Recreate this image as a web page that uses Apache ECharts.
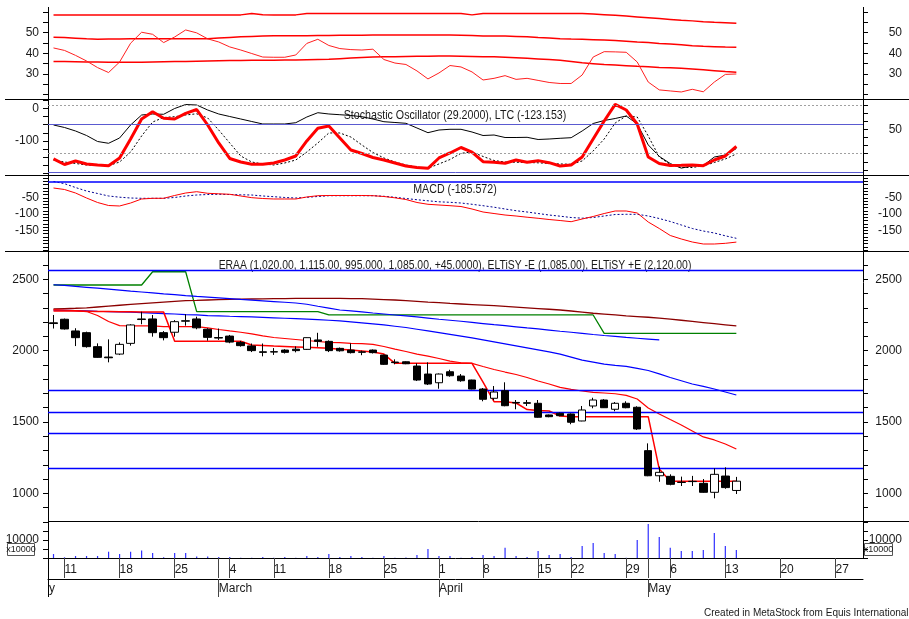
<!DOCTYPE html>
<html><head><meta charset="utf-8">
<script src="https://cdn.jsdelivr.net/npm/echarts@6/dist/echarts.min.js"></script>
<style>html,body{margin:0;padding:0;background:#fff}#c{width:909px;height:619px}</style>
</head><body><div id="c"></div>
<script>
// ---------- axis / tick labels ----------
const slotCount = 74;
const dayTickIdx  = [1,6,11,16,20,25,30,35,39,44,47,52,56,61,66,71];
const dayTickText = ['11','18','25','4','11','18','25','1','8','15','22','29','6','13','20','27'];
const monthTickIdx  = [15,35,54];
const monthTickText = ['March','April','May'];

// ---------- price (O, C, L, H) ----------
const open  = [2195,2220,2138,2126,2028,1955,1976,2051,2218,2222,2126,2129,2206,2222,2150,2092,2102,2058,2033,1992,1990,2004,2010,2009,2075,2065,2016,2004,1991,2004,1969,1920,1922,1892,1836,1775,1852,1822,1794,1731,1666,1719,1637,1635,1631,1549,1561,1556,1507,1612,1654,1589,1631,1603,1299,1123,1119,1078,1084,1070,1007,1121,1020];
const close = [2190,2152,2091,2028,1953,1950,2044,2180,2222,2126,2091,2203,2210,2160,2093,2088,2060,2035,2000,1988,1993,1988,2000,2091,2065,2000,1999,1986,1989,1986,1904,1916,1908,1794,1766,1836,1824,1789,1731,1659,1710,1614,1633,1631,1533,1537,1544,1498,1584,1654,1600,1631,1600,1451,1123,1147,1063,1076,1082,1007,1133,1040,1085];
const low   = [2155,2148,2032,2021,1950,1918,1969,2035,2185,2098,2072,2098,2175,2150,2070,2075,2052,2028,1990,1960,1970,1980,1988,2005,2027,1990,1993,1980,1968,1980,1900,1904,1905,1787,1759,1733,1817,1782,1729,1645,1652,1610,1589,1612,1530,1533,1540,1484,1505,1596,1598,1575,1596,1444,1120,1081,1056,1051,1051,1004,965,1032,995];
const high  = [2250,2225,2157,2133,2051,2079,2058,2185,2273,2250,2137,2214,2255,2238,2157,2155,2110,2068,2050,2050,2018,2010,2030,2092,2125,2072,2022,2051,2000,2008,1972,1939,1925,1911,1918,1840,1866,1836,1796,1738,1752,1778,1654,1654,1654,1552,1566,1560,1612,1670,1660,1640,1645,1610,1350,1187,1133,1117,1122,1100,1175,1182,1115];

// price-panel lines
const eltisyPlusE  = [2460,2460,2460,2460,2460,2460,2460,2460,2460,2553,2553,2553,2553,2273,2273,2273,2273,2273,2273,2273,2273,2273,2273,2273,2273,2250,2250,2250,2250,2250,2250,2250,2250,2250,2250,2250,2250,2250,2250,2250,2250,2250,2250,2250,2250,2250,2250,2250,2250,2250,2121,2121,2121,2121,2121,2121,2121,2121,2121,2121,2121,2121,2121];
const eltisyMinusE = [2278,2278,2277,2276,2275,2274,2273,2272,2271,2270,2270,2066,2066,2066,2066,2066,2066,2066,2040,2036,2032,2029,2026,2023,2020,2016,2010,2004,1998,1990,1976,1911,1911,1911,1911,1911,1911,1911,1911,1780,1642,1642,1633,1587,1580,1577,1542,1537,1537,1537,1537,1537,1537,1537,1537,1170,1085,1085,1085,1085,1085,1085,1085];
const redAvg   = [2288,2285,2281,2274,2246,2204,2175,2173,2173,2173,2169,2169,2169,2168,2159,2148,2138,2129,2117,2103,2092,2085,2078,2071,2064,2058,2056,2051,2049,2044,2029,2011,1994,1976,1962,1945,1927,1915,1911,1889,1868,1850,1833,1812,1787,1766,1743,1729,1717,1707,1703,1698,1686,1661,1598,1556,1517,1479,1437,1395,1374,1346,1310];
const maroonAvg = [2292,2295,2297,2300,2306,2312,2318,2324,2330,2335,2340,2345,2350,2352,2355,2357,2359,2361,2362,2363,2364,2365,2366,2366,2367,2367,2366,2365,2364,2361,2358,2355,2350,2345,2340,2336,2331,2327,2323,2319,2315,2310,2305,2300,2295,2290,2285,2278,2270,2262,2256,2250,2244,2239,2234,2228,2221,2213,2205,2197,2189,2181,2173];
const blueUpper = [2462,2457,2450,2444,2438,2431,2424,2417,2411,2405,2398,2393,2386,2380,2375,2370,2365,2359,2354,2349,2344,2339,2334,2325,2311,2298,2285,2279,2272,2264,2257,2250,2243,2236,2228,2220,2213,2206,2198,2190,2182,2175,2167,2159,2152,2144,2136,2129,2121,2113,2106,2100,2093,2087,2081,2075];
const blueLower = [2283,2282,2281,2279,2276,2274,2271,2269,2266,2263,2260,2257,2253,2250,2246,2244,2241,2239,2236,2233,2230,2227,2224,2221,2217,2213,2208,2201,2194,2187,2180,2171,2162,2150,2138,2126,2114,2102,2089,2075,2061,2047,2033,2019,2005,1991,1976,1955,1934,1920,1905,1897,1890,1876,1861,1837,1812,1789,1766,1749,1731,1710,1689];
const priceLevels = [2563,1723,1568,1423,1175];

// volume (x10000)
const volume = [2200,400,1100,1100,1100,3500,2200,3500,4100,2800,400,2800,2800,800,800,600,600,200,200,600,200,600,200,1100,600,2200,600,1100,600,200,1100,200,300,1700,5000,1100,1100,200,600,1700,1100,5700,1100,600,3900,1700,2200,600,6700,8300,2800,2200,200,10000,18900,11700,5700,3900,3900,4400,13900,6700,4400];

// top panel
const rsiLine  = [42.6,41.4,39.0,36.3,33.1,30.7,35.8,44.9,50.2,49.2,45.2,47.9,51.3,49.9,47.0,45.5,43.1,41.6,39.9,38.2,38.1,38.1,39.2,44.8,46.8,43.8,42.3,41.8,41.6,42.0,37.0,35.3,34.6,31.5,27.6,30.5,34.1,33.4,31.0,27.1,27.9,29.2,27.4,27.9,26.9,25.9,25.4,25.4,29.5,38.2,40.8,40.7,40.5,35.8,26.1,22.3,21.8,21.3,22.6,21.4,26.1,29.8,30.0];
const bandUp   = [58.6,58.6,58.6,58.6,58.6,58.6,58.6,58.6,58.6,58.6,58.6,58.6,58.6,58.6,58.6,58.6,58.6,58.6,59.3,58.7,58.6,58.6,58.6,59.3,59.3,59.3,59.3,59.3,59.3,59.3,59.3,59.3,59.3,59.3,59.3,59.3,59.3,59.3,58.6,59.3,59.3,59.3,59.3,59.3,59.3,59.3,59.3,59.3,59.3,59.0,58.7,58.4,58.0,57.6,57.2,56.8,56.4,56.0,55.7,55.3,55.0,54.8,54.6];
const bandMid  = [47.8,47.6,47.3,47.0,46.8,46.9,46.9,47.0,47.0,47.0,47.0,47.1,47.1,47.1,47.1,47.4,47.7,48.0,48.2,48.4,48.5,48.5,48.5,48.5,48.6,48.6,48.7,48.7,48.8,48.9,48.9,48.9,48.9,48.9,48.9,48.9,48.9,48.8,48.6,48.4,48.4,48.4,48.2,48.0,47.6,47.4,47.1,46.9,46.8,46.6,46.4,46.2,45.9,45.5,45.2,44.8,44.5,44.1,43.7,43.4,43.2,43.0,42.9];
const bandLow  = [36.1,36.0,35.9,35.8,35.8,35.7,35.7,35.7,35.7,35.8,35.9,36.0,36.1,36.2,36.3,36.4,36.5,36.5,36.6,36.6,36.7,36.8,36.8,36.9,37.0,37.1,37.4,37.7,38.0,38.2,38.3,38.4,38.5,38.6,38.6,38.7,38.7,38.6,38.5,38.4,38.3,38.1,37.9,37.6,37.3,37.0,36.6,36.1,35.4,35.0,34.6,34.3,34.0,33.7,33.5,33.2,33.0,32.8,32.4,32.0,31.6,31.2,30.9];

// stochastic panel
const stochK = [13.5,6.6,11.0,7.3,6.0,5.2,14.7,38.2,63.0,72.1,63.9,63.0,70.1,74.8,55.6,33.3,14.1,9.7,6.9,6.9,8.5,12.2,17.2,35.8,51.5,54.3,39.5,24.6,20.3,15.3,12.2,8.5,4.8,2.9,1.9,14.7,20.9,27.7,22.1,10.1,9.4,8.1,12.2,9.4,11.4,8.9,4.8,6.0,15.9,38.2,60.5,81.2,74.2,56.8,15.9,7.9,5.4,5.6,6.0,5.2,12.2,17.2,29.2];
const stochD = [12.2,9.7,7.9,6.0,5.4,5.2,9.7,22.1,42.0,59.3,64.9,65.9,68.0,69.5,64.3,49.4,33.3,17.2,9.7,7.3,6.0,8.5,12.2,22.1,33.3,45.7,45.7,40.7,30.8,21.5,14.7,9.7,6.0,3.5,1.9,7.3,12.8,20.5,22.1,16.6,11.6,9.7,9.4,9.1,8.7,7.9,7.3,6.9,11.0,23.4,38.2,58.1,66.7,65.5,42.0,15.9,6.6,2.9,2.9,5.0,9.1,13.5,19.7];
const ltc    = [-51,-58.7,-69.4,-83.2,-101.5,-107,-90.8,-51,-20.5,-17.4,-18.3,-0.6,11.6,10.1,-5.2,-17.4,-25.1,-32.7,-40.4,-48,-48,-48,-44,-26.6,-13.5,-17.4,-19.6,-22,-25.7,-32.7,-41,-43.4,-45.9,-60.2,-74.6,-66.4,-64.2,-64.2,-72.5,-83.2,-81.7,-89.3,-89.3,-88.7,-95.4,-93.9,-91.7,-89.9,-69.4,-46.5,-37.3,-31.2,-23.5,-48,-112,-147,-169,-183,-176,-175,-149,-143,-123.153];
const stochLevels = [80,20];
const ltcLevels = [-48,-196];

// MACD panel
const macd   = [-20.2,-24.8,-35.5,-50.8,-64.5,-73.7,-75.2,-66.1,-53.8,-51.7,-51.7,-43.1,-35.5,-31.5,-36.4,-37.9,-39.4,-44.6,-49.8,-52.3,-53.8,-53.8,-53.8,-47.7,-43.7,-43.1,-43.1,-43.1,-43.1,-43.7,-46.2,-50.2,-55.4,-64.5,-70.0,-72.2,-74.3,-76.8,-84.4,-93.6,-98.2,-102.8,-105.8,-109.5,-112.8,-116.5,-119.6,-123.2,-115,-107.3,-98.2,-90.5,-90.5,-96.6,-124.2,-144,-165.4,-176.1,-185.3,-191.4,-191.4,-189.3,-185.572];
const signal = [-0.3,-7.0,-18.7,-29.4,-37.0,-44.6,-48.3,-50.8,-51.7,-51.7,-51.7,-49.2,-44.6,-41.6,-40.1,-39.4,-40.1,-41,-41.6,-44.6,-46.8,-49.2,-50.8,-48.6,-46.2,-43.7,-43.7,-43.7,-43.7,-43.7,-45.6,-48.6,-52.3,-56,-59.3,-62.4,-63.9,-66.1,-70,-74.3,-78.9,-84.4,-89.6,-93.6,-98.2,-102.8,-106.4,-110.4,-112.5,-110.4,-105.8,-101.2,-100.6,-100.6,-105.8,-113.5,-122.6,-133.3,-144,-151.7,-157.8,-166.4,-174];

// tick sets
const p1Ticks = [20,25,30,35,40,45,50,55,60], p1Labels = [30,40,50];
const ltcTicks = [-200,-175,-150,-125,-100,-75,-50,-25,0,25], ltcLabels = [0,-100];
const stTicks = [0,10,20,30,40,50,60,70,80], stLabels = [50];
const macdTicks = [-210,-200,-190,-180,-170,-160,-150,-140,-130,-120,-110,-100,-90,-80,-70,-60,-50,-40,-30,-20,-10,0,10], macdLabels = [-50,-100,-150];
const priceTicks = [900,1000,1100,1200,1300,1400,1500,1600,1700,1800,1900,2000,2100,2200,2300,2400,2500,2600], priceLabels = [1000,1500,2000,2500];
const volTicks = [0,5000,10000,15000,20000], volLabels = [10000];

const titlePrice = 'ERAA (1,020.00, 1,115.00, 995.000, 1,085.00, +45.0000), ELTiSY -E (1,085.00), ELTiSY +E (2,120.00)';
const titleMacd = 'MACD (-185.572)';
const titleStoch = 'Stochastic Oscillator (29.2000), LTC (-123.153)';

// ---------- build ----------
const FONT = '"Liberation Sans",Arial,sans-serif';
const AXF = 12;
const TXT = '#1a1a1a';
const slots = Array.from({length: slotCount}, (_, i) => String(i));
const candle = open.map((o, i) => [o, close[i], low[i], high[i]]);

function yax(g, pos, min, max, ticks, labels) {
  return {
    type: 'value', gridIndex: g, position: pos, min: min, max: max,
    axisLine: {show: false}, splitLine: {show: false},
    axisTick: {show: true, inside: false, length: 5, customValues: ticks, lineStyle: {color: '#000'}},
    axisLabel: {customValues: labels, formatter: (v) => String(v), margin: pos === 'left' ? 9 : 39, align: 'right',
      fontFamily: FONT, fontSize: AXF, color: TXT}
  };
}
function hx(g) { return {type: 'category', gridIndex: g, data: slots, boundaryGap: true, show: false}; }
function ln(xi, yi, data, color, width, type) {
  return {type: 'line', xAxisIndex: xi, yAxisIndex: yi, data: data, symbol: 'none', silent: true,
    lineStyle: {color: color, width: width, type: type || 'solid'}, z: 3};
}
function levels(vals, color, width, type) {
  return {silent: true, symbol: 'none', label: {show: false}, animation: false,
    lineStyle: {color: color, width: width, type: type || 'solid'},
    data: vals.map(v => ({yAxis: v}))};
}
function title(txt, y, sx) {
  return {type: 'text', x: 455, y: y, scaleX: sx, originX: 0, originY: 0,
    style: {text: txt, font: '13px ' + FONT, fill: TXT, textAlign: 'center', textVerticalAlign: 'middle'}};
}

const grids = [
  {left: 48, right: 46, top: 0, height: 99},
  {left: 48, right: 46, top: 100, height: 75},
  {left: 48, right: 46, top: 176, height: 75},
  {left: 48, right: 46, top: 252, height: 268},
  {left: 48, right: 46, top: 522, height: 36},
  {left: 48, right: 46, top: 558, height: 21}
];

const dayTickAll = dayTickIdx.concat(monthTickIdx);
const dayAxis = {
  type: 'category', gridIndex: 4, data: slots, boundaryGap: true,
  axisLine: {show: true, lineStyle: {color: '#000', width: 1}},
  axisTick: {show: true, alignWithLabel: true, length: 20, interval: (i) => dayTickAll.includes(i), lineStyle: {color: '#444'}},
  axisLabel: {interval: (i) => dayTickIdx.includes(i), formatter: (v, i) => { const k = dayTickIdx.indexOf(i); return k >= 0 ? dayTickText[k] : ''; },
    align: 'left', margin: 6, fontFamily: FONT, fontSize: AXF, color: TXT}
};
const monthAxis = {
  type: 'category', gridIndex: 5, data: slots, boundaryGap: true, position: 'bottom',
  axisLine: {show: true, lineStyle: {color: '#000', width: 1}},
  axisTick: {show: true, alignWithLabel: true, length: 18, interval: (i) => monthTickIdx.includes(i), lineStyle: {color: '#444'}},
  axisLabel: {interval: (i) => monthTickIdx.includes(i), formatter: (v, i) => { const k = monthTickIdx.indexOf(i); return k >= 0 ? monthTickText[k] : ''; },
    align: 'left', margin: 4, fontFamily: FONT, fontSize: AXF, color: TXT}
};

const option = {
  animation: false,
  backgroundColor: '#fff',
  grid: grids,
  xAxis: [hx(0), hx(1), hx(2), hx(3), dayAxis, monthAxis],
  yAxis: [
    yax(0, 'left', 17.9, 65.8, p1Ticks, p1Labels), yax(0, 'right', 17.9, 65.8, p1Ticks, p1Labels),
    yax(1, 'left', -204, 25.4, ltcTicks, ltcLabels), yax(1, 'right', -6.4, 86.6, stTicks, stLabels),
    yax(2, 'left', -212.8, 16.5, macdTicks, macdLabels), yax(2, 'right', -212.8, 16.5, macdTicks, macdLabels),
    yax(3, 'left', 812.9, 2691.4, priceTicks, priceLabels), yax(3, 'right', 812.9, 2691.4, priceTicks, priceLabels),
    yax(4, 'left', 0, 20000, volTicks, volLabels), yax(4, 'right', 0, 20000, volTicks, volLabels),
    {type: 'value', gridIndex: 5, show: false, min: 0, max: 1}
  ],
  series: [
    // panel 1
    ln(0, 0, bandUp, '#ff0000', 1.5), ln(0, 0, bandMid, '#ff0000', 1.5), ln(0, 0, bandLow, '#ff0000', 1.5),
    ln(0, 0, rsiLine, '#ff2020', 1),
    // panel 2
    Object.assign(ln(1, 2, ltc, '#000', 1), {markLine: levels(ltcLevels, '#5a5ad0', 1)}),
    Object.assign(ln(1, 3, stochD, '#000', 1, [2, 2]), {markLine: levels(stochLevels, '#a0a0a0', 1, [2, 2])}),
    ln(1, 3, stochK, '#ff0000', 3),
    // panel 3
    Object.assign(ln(2, 4, signal, '#000090', 1, [2, 2]), {markLine: levels([0], '#0000ff', 1.5)}),
    ln(2, 4, macd, '#ff0000', 1),
    // panel 4
    Object.assign(ln(3, 6, eltisyPlusE, '#008000', 1.3), {markLine: levels(priceLevels, '#0000ff', 1.3)}),
    ln(3, 6, maroonAvg, '#8b0000', 1.3),
    ln(3, 6, blueUpper, '#0000ff', 1.2),
    ln(3, 6, blueLower, '#0000ff', 1.2),
    ln(3, 6, redAvg, '#ff0000', 1.2),
    ln(3, 6, eltisyMinusE, '#ff0000', 1.5),
    {type: 'candlestick', xAxisIndex: 3, yAxisIndex: 6, data: candle, barWidth: 8, silent: true, z: 5,
      itemStyle: {color: '#fff', color0: '#000', borderColor: '#000', borderColor0: '#000', borderWidth: 1}},
    // panel 5
    {type: 'bar', xAxisIndex: 4, yAxisIndex: 8, data: volume, barWidth: 1.2, silent: true, itemStyle: {color: '#3030ff'}}
  ],
  graphic: [
    {type: 'line', shape: {x1: 48.5, y1: 7, x2: 48.5, y2: 597}, style: {stroke: '#000', lineWidth: 1}},
    {type: 'line', shape: {x1: 863.5, y1: 7, x2: 863.5, y2: 558}, style: {stroke: '#000', lineWidth: 1}},
    {type: 'line', shape: {x1: 5, y1: 99.5, x2: 909, y2: 99.5}, style: {stroke: '#000', lineWidth: 1}},
    {type: 'line', shape: {x1: 5, y1: 175.5, x2: 909, y2: 175.5}, style: {stroke: '#000', lineWidth: 1}},
    {type: 'line', shape: {x1: 5, y1: 251.5, x2: 909, y2: 251.5}, style: {stroke: '#000', lineWidth: 1}},
    {type: 'line', shape: {x1: 48, y1: 521.5, x2: 909, y2: 521.5}, style: {stroke: '#000', lineWidth: 1}},
    title(titleStoch, 115, 0.82),
    title(titleMacd, 189, 0.82),
    title(titlePrice, 265, 0.8),
    {type: 'rect', shape: {x: 7.5, y: 543.5, width: 27, height: 12}, style: {fill: '#fff', stroke: '#555', lineWidth: 1}},
    {type: 'text', x: 21, y: 549.5, style: {text: 'x10000', font: '9px ' + FONT, fill: TXT, textAlign: 'center', textVerticalAlign: 'middle'}},
    {type: 'rect', shape: {x: 864.5, y: 543.5, width: 28, height: 12}, style: {fill: '#fff', stroke: '#555', lineWidth: 1}},
    {type: 'text', x: 878.5, y: 549.5, style: {text: 'x10000', font: '9px ' + FONT, fill: TXT, textAlign: 'center', textVerticalAlign: 'middle'}},
    {type: 'text', x: 49, y: 589, style: {text: 'y', font: AXF + 'px ' + FONT, fill: TXT, textAlign: 'left', textVerticalAlign: 'middle'}},
    {type: 'text', x: 704, y: 613, style: {text: 'Created in MetaStock from Equis International', font: '10px "Liberation Sans",sans-serif', fill: TXT, textAlign: 'left', textVerticalAlign: 'middle'}}
  ]
};
const chart = echarts.init(document.getElementById('c'), null, {renderer: 'canvas'});
chart.setOption(option);
</script></body></html>
